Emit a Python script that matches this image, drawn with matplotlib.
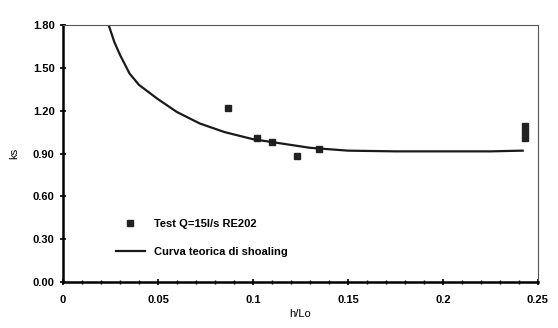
import matplotlib
matplotlib.use("Agg")
import matplotlib.pyplot as plt
import numpy as np
from matplotlib.ticker import MultipleLocator, FormatStrFormatter

plt.rcParams["font.family"] = ["Liberation Sans Narrow", "Liberation Sans", "DejaVu Sans"]
plt.rcParams["font.weight"] = "bold"

# measured points
test_x = [0.087, 0.102, 0.110, 0.123, 0.135, 0.243, 0.243, 0.243]
test_y = [1.22, 1.01, 0.98, 0.88, 0.93, 1.01, 1.05, 1.09]

# theoretical shoaling curve
curve_x = [0.024, 0.027, 0.030, 0.035, 0.040, 0.045, 0.050, 0.060, 0.072, 0.085,
           0.100, 0.115, 0.130, 0.150, 0.175, 0.200, 0.225, 0.242]
curve_y = [1.80, 1.68, 1.59, 1.46, 1.38, 1.33, 1.28, 1.19, 1.11, 1.05,
           1.00, 0.97, 0.94, 0.92, 0.915, 0.915, 0.915, 0.92]

fig = plt.figure(figsize=(5.58, 3.28), dpi=100)
ax = fig.add_axes([0.113, 0.140, 0.851, 0.784])

ax.plot(test_x, test_y, "s", color="#222222", markersize=5, linestyle="none",
        label="Test Q=15l/s RE202")
ax.plot(curve_x, curve_y, "-", color="#1a1a1a", linewidth=1.6,
        label="Curva teorica di shoaling")

ax.set_xlim(0, 0.25)
ax.set_ylim(0, 1.80)
ax.set_xticks([0, 0.05, 0.1, 0.15, 0.2, 0.25])
ax.set_xticklabels(["0", "0.05", "0.1", "0.15", "0.2", "0.25"])
ax.xaxis.set_minor_locator(MultipleLocator(0.01))
ax.yaxis.set_major_locator(MultipleLocator(0.30))
ax.yaxis.set_major_formatter(FormatStrFormatter("%.2f"))
ax.tick_params(axis="both", labelsize=8, width=1.2, length=5, direction="inout")
ax.tick_params(axis="x", which="minor", length=3, width=1, direction="inout")
ax.tick_params(axis="x", pad=7)

ax.spines["left"].set_linewidth(1.8)
ax.spines["bottom"].set_linewidth(1.8)
ax.spines["top"].set_linewidth(0.8)
ax.spines["right"].set_linewidth(0.8)
ax.spines["top"].set_color("#555555")
ax.spines["right"].set_color("#555555")

ax.set_xlabel("h/Lo", fontsize=8, labelpad=3)
ax.set_ylabel("ks", fontsize=8, labelpad=10)

ax.legend(loc="lower left", bbox_to_anchor=(0.09, 0.06), frameon=False,
          fontsize=8, handlelength=2.6, labelspacing=1.6)

fig.savefig("out.png", dpi=100)
